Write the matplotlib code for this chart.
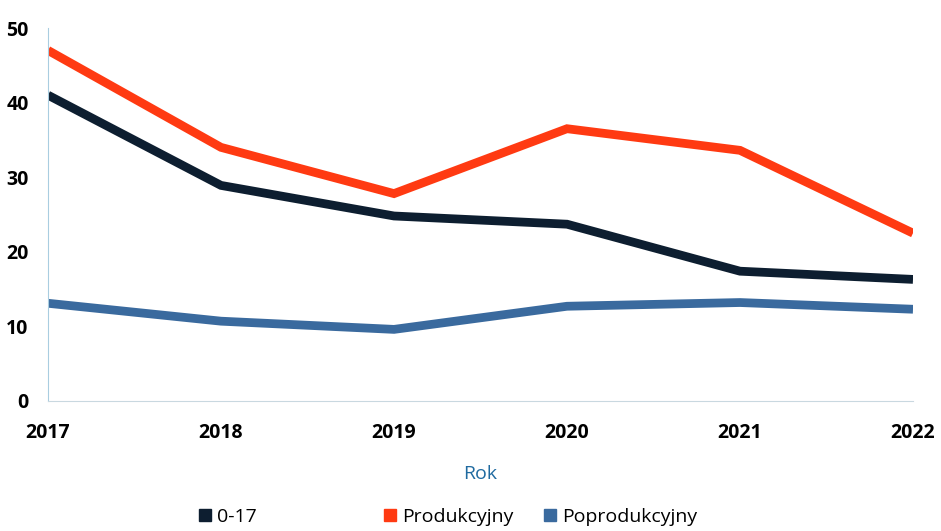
import matplotlib
matplotlib.use('Agg')
import matplotlib.pyplot as plt
from matplotlib.lines import Line2D

plt.rcParams['font.family'] = ['Open Sans', 'DejaVu Sans']

years = [2017, 2018, 2019, 2020, 2021, 2022]
age_0_17 = [41.0, 28.9, 24.8, 23.7, 17.4, 16.3]
produkcyjny = [47.0, 34.0, 27.8, 36.5, 33.6, 22.5]
poprodukcyjny = [13.1, 10.7, 9.6, 12.7, 13.2, 12.3]

series = [
    ('0-17', age_0_17, '#0d1e30'),
    ('Produkcyjny', produkcyjny, '#ff3a12'),
    ('Poprodukcyjny', poprodukcyjny, '#3a6a9e'),
]
# legend entry left positions (pixels), uneven as in the original
legend_x = [193, 378, 538]

fig = plt.figure(figsize=(9.41, 5.31), dpi=100)
ax = fig.add_axes([48 / 941, 1 - 401 / 531, 865 / 941, 373 / 531])

for name, vals, color in series:
    ax.plot(years, vals, color=color, linewidth=6.3, solid_capstyle='butt',
            solid_joinstyle='miter')

ax.set_xlim(2017, 2022)
ax.set_ylim(0, 50)
ax.set_yticks(range(0, 51, 10))
ax.set_xticks(years)
for s in ['top', 'right']:
    ax.spines[s].set_visible(False)
ax.spines['left'].set_color('#a9cde0')
ax.spines['bottom'].set_color('#c9d8e0')
ax.tick_params(length=0)
ax.tick_params(axis='y', pad=14, labelsize=14)
ax.tick_params(axis='x', pad=16, labelsize=14)
for lbl in ax.get_xticklabels() + ax.get_yticklabels():
    lbl.set_fontweight('bold')
ax.set_xlabel('Rok', color='#1f6aa0', fontsize=14, labelpad=16)

for (name, _, c), px in zip(series, legend_x):
    h = Line2D([], [], marker='s', linestyle='none', markersize=9,
               markerfacecolor=c, markeredgecolor=c)
    fig.legend([h], [name], loc='center left',
               bbox_to_anchor=(px / 941, 1 - 517 / 531), frameon=False,
               fontsize=14, handletextpad=0.05, borderpad=0, borderaxespad=0,
               handlelength=1.2)

fig.savefig('out.png', dpi=100)
